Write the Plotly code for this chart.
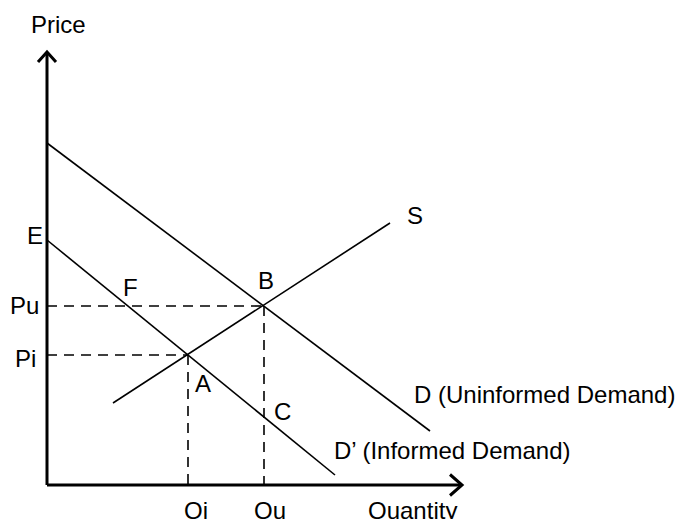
import plotly.graph_objects as go

# ---- data (abstract economic units) ----
demand_q = [0.0, 38.3]          # D (Uninformed Demand)
demand_p = [34.2, 5.4]
informed_q = [0.0, 28.8]        # D' (Informed Demand)
informed_p = [24.5, 1.0]
supply_q = [6.6, 34.3]          # S
supply_p = [8.2, 26.2]

q_i, p_i = 14.1, 13.0           # point A
q_u, p_u = 21.7, 17.9           # point B
q_max, p_max = 41.5, 43.3       # axis extents

point_labels = ["E", "F", "B", "A", "C"]
point_q = [-1.25, 8.3, 21.9, 15.6, 23.5]
point_p = [25.0, 19.8, 20.5, 10.2, 7.4]

tick_labels_y = ["Pu", "Pi"]
tick_labels_x = ["Qi", "Qu"]

FONT = "Liberation Sans, Arial, sans-serif"
FS = 24
BLACK = "black"

fig = go.Figure()

def line(xs, ys, width=1.6, dash=None):
    fig.add_trace(go.Scatter(x=xs, y=ys, mode="lines",
                             line=dict(color=BLACK, width=width, dash=dash),
                             hoverinfo="skip", showlegend=False))

# axes with open arrowheads
line([0, 0], [0, p_max], width=3)
line([0, q_max], [0, 0], width=3)
line([-0.9, 0, 0.9], [p_max - 1.0, p_max, p_max - 1.0], width=3)
line([q_max - 1.2, q_max, q_max - 1.2], [1.05, 0, -1.05], width=3)

# curves
line(demand_q, demand_p)
line(informed_q, informed_p)
line(supply_q, supply_p)

# dashed guides
dash = "10px,7px"
line([0, q_u], [p_u, p_u], dash=dash)
line([q_u, q_u], [p_u, 0], dash=dash)
line([0, q_i], [p_i, p_i], dash=dash)
line([q_i, q_i], [p_i, 0], dash=dash)

ann = []
def text(x, y, s, xanchor="center", yanchor="middle"):
    ann.append(dict(x=x, y=y, text=s, showarrow=False, xanchor=xanchor,
                    yanchor=yanchor, font=dict(family=FONT, size=FS, color=BLACK)))

text(1.1, 46.1, "Price")
text(q_max - 5.0, -2.55, "Quantity")
for lab, q, p in zip(point_labels, point_q, point_p):
    text(q, p, lab)
text(-2.3, p_u + 0.1, tick_labels_y[0])
text(-2.2, p_i - 0.3, tick_labels_y[1])
text(q_i + 0.8, -2.55, tick_labels_x[0])
text(q_u + 0.6, -2.55, tick_labels_x[1])
text(supply_q[1] + 2.5, supply_p[1] + 0.8, "S")
text(demand_q[1] - 1.8, 9.1, "D (Uninformed Demand)", xanchor="left")
text(informed_q[1] - 0.3, 3.5, "D\u2019 (Informed Demand)", xanchor="left")

fig.update_layout(
    width=682, height=519,
    margin=dict(l=0, r=0, t=0, b=0),
    paper_bgcolor="white", plot_bgcolor="white",
    xaxis=dict(range=[-4.7, 63.5], visible=False, fixedrange=True),
    yaxis=dict(range=[-3.4, 48.5], visible=False, fixedrange=True),
    annotations=ann,
    showlegend=False,
)

# remove the default 8px page margin so the figure fills the window exactly
fig.write_html(
    "out.html",
    config={"displayModeBar": False, "staticPlot": True},
    post_script="document.body.style.margin='0';document.body.style.overflow='hidden';",
)
